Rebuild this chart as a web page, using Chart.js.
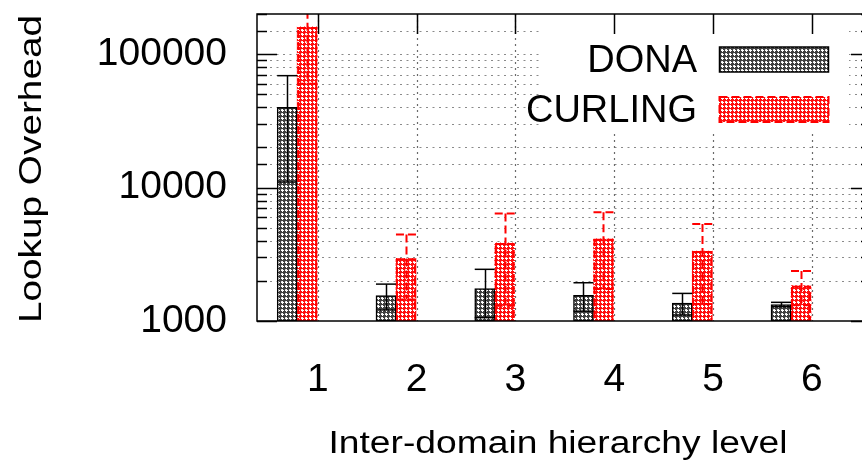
<!DOCTYPE html>
<html><head><meta charset="utf-8">
<script src="https://cdn.jsdelivr.net/npm/chart.js@4/dist/chart.umd.min.js"></script>
<style>html,body{margin:0;padding:0;background:#fff;overflow:hidden;width:862px;height:464px}canvas{display:block}</style>
</head><body>
<canvas id="c" width="880" height="464" style="width:880px;height:464px"></canvas>
<script>
const categories = ['1','2','3','4','5','6'];
const levels = [1,2,3,4,5,6];
const seriesNames = ['DONA','CURLING'];
const donaValues = [40000,1550,1750,1560,1360,1330];
const donaErrors = [29000,340,690,375,250,50];
const curlingValues = [160000,2950,3850,4130,3340,1840];
const curlingErrors = [100000,1500,2550,2390,2000,530];
const yMajorTicks = [1000,10000,100000];
const xTitle = 'Inter-domain hierarchy level';
const yTitle = 'Lookup Overhead';

function makePattern(bg, dot){
  const c=document.createElement('canvas'); c.width=4; c.height=4;
  const g=c.getContext('2d');
  g.fillStyle=bg; g.fillRect(0,0,4,4);
  g.fillStyle=dot;
  g.fillRect(1,1,2,2);
  g.fillStyle='#ffffff';
  g.fillRect(2,1,1,3); g.fillRect(1,2,3,1);
  return g.createPattern(c,'repeat');
}
const donaPat = makePattern('#404040', '#d0d0d0');
const curlPat = makePattern('#ff1010', '#ffd0d0');

function line(ctx,x1,y1,x2,y2){ctx.beginPath();ctx.moveTo(x1,y1);ctx.lineTo(x2,y2);ctx.stroke();}

const framePlugin = {
  id:'frame',
  beforeDatasetsDraw(chart){
    const ctx=chart.ctx, a=chart.chartArea, xs=chart.scales.x, ys=chart.scales.y;
    ctx.save();
    ctx.strokeStyle='#8a8a8a'; ctx.lineWidth=1; ctx.setLineDash([2,4.5]);
    ys.ticks.forEach(t=>{const py=Math.round(ys.getPixelForValue(t.value))+0.5; if(py<=a.top+1||py>=a.bottom-1) return; line(ctx,a.left,py,a.right,py);});
    ctx.strokeStyle='#6a6a6a'; ctx.lineWidth=1.2; ctx.setLineDash([2,4]);
    levels.forEach(v=>{const px=Math.round(xs.getPixelForValue(v))+0.5; line(ctx,px,a.top,px,a.bottom);});
    ctx.setLineDash([]);
    ctx.fillStyle='#fff'; ctx.fillRect(543, a.top+1, 306, 118);
    ctx.strokeStyle='#000'; ctx.lineWidth=1.5;
    ys.ticks.forEach(t=>{const py=Math.round(ys.getPixelForValue(t.value))+0.5; const len=yMajorTicks.includes(t.value)?20:10; line(ctx,a.left,py,a.left+len,py); line(ctx,a.right,py,a.right-len,py);});
    levels.forEach(v=>{const px=Math.round(xs.getPixelForValue(v))+0.5; line(ctx,px,a.top,px,a.top+20);});
    ctx.restore();
  },
  afterDatasetsDraw(chart){
    const ctx=chart.ctx, a=chart.chartArea, ys=chart.scales.y;
    ctx.save();
    ctx.beginPath(); ctx.rect(a.left,a.top,a.right-a.left,a.bottom-a.top); ctx.clip();
    const m1 = chart.getDatasetMeta(1);
    ctx.strokeStyle='#ff0000'; ctx.lineWidth=2; ctx.setLineDash([8,4]);
    m1.data.forEach(el=>{const p=el.getProps(['x','y','base','width'],true); ctx.strokeRect(p.x-p.width/2+1,p.y+1,p.width-2,p.base-p.y-1);});
    chart.data.datasets.forEach((ds,di)=>{
      const meta=chart.getDatasetMeta(di);
      if(di===0){ctx.strokeStyle='#000';ctx.lineWidth=1.5;ctx.setLineDash([]);}
      else {ctx.strokeStyle='#ff0000';ctx.lineWidth=2;ctx.setLineDash([8,4]);}
      meta.data.forEach((el,i)=>{
        const p=el.getProps(['x','width'],true);
        const v=ds.data[i].y, e=ds.errors[i];
        const hi=ys.getPixelForValue(v+e), lo=ys.getPixelForValue(Math.max(v-e,1));
        const cx=Math.round(p.x)+0.5, hw=p.width/2;
        line(ctx,cx,hi,cx,lo);
        line(ctx,p.x-hw,hi,p.x+hw,hi);
        line(ctx,p.x-hw,lo,p.x+hw,lo);
      });
    });
    ctx.restore();
  },
  afterDraw(chart){
    const ctx=chart.ctx, a=chart.chartArea;
    ctx.save();
    ctx.font='38px "Liberation Sans", Arial, sans-serif';
    ctx.fillStyle='#000'; ctx.textAlign='right'; ctx.textBaseline='alphabetic';
    const ds=chart.data.datasets;
    const rows=[{y:72,pat:donaPat},{y:122,pat:curlPat}];
    rows.forEach((r,i)=>{
      ctx.fillText(ds[i].label, 697, r.y);
      ctx.fillStyle=r.pat; ctx.fillRect(719, r.y-25, 110, 25);
      if(i===0){ctx.strokeStyle='#000';ctx.lineWidth=1.5;ctx.setLineDash([]);}
      else {ctx.strokeStyle='#ff0000';ctx.lineWidth=2;ctx.setLineDash([8,4]);}
      ctx.strokeRect(719.5, r.y-25, 109, 25);
      ctx.setLineDash([]);
      ctx.fillStyle='#000';
    });
    ctx.strokeStyle='#000'; ctx.lineWidth=1.5;
    ctx.strokeRect(a.left, a.top, a.right-a.left, a.bottom-a.top);
    ctx.font='31px "Liberation Sans", Arial, sans-serif';
    ctx.textAlign='center'; ctx.textBaseline='alphabetic';
    ctx.save(); ctx.translate(558, 453); ctx.scale(1.2,1); ctx.fillText(xTitle,0,0); ctx.restore();
    ctx.save(); ctx.translate(40.5, 169); ctx.rotate(-Math.PI/2); ctx.scale(1.25,1); ctx.fillText(yTitle,0,0); ctx.restore();
    ctx.restore();
  }
};

const chart = new Chart(document.getElementById('c').getContext('2d'), {
  type:'bar',
  data:{
    datasets:[
      {label:seriesNames[0], data:levels.map((x,i)=>({x, y:donaValues[i]})), errors:donaErrors,
       backgroundColor:donaPat, borderColor:'#000', borderWidth:1.5, borderSkipped:false, xAxisID:'xb', barThickness:20},
      {label:seriesNames[1], data:levels.map((x,i)=>({x, y:curlingValues[i]})), errors:curlingErrors,
       backgroundColor:curlPat, borderWidth:0, xAxisID:'xb', barThickness:20}
    ]
  },
  options:{
    responsive:false, animation:false,
    layout:{padding:{top:14,right:9,left:0,bottom:0}},
    plugins:{legend:{display:false}, tooltip:{enabled:false}},
    scales:{
      x:{type:'linear', position:'bottom', offset:false, min:0.383, max:6.6, grid:{display:false, offset:false}, border:{display:false},
         ticks:{stepSize:1, includeBounds:false, autoSkip:false, maxRotation:0, padding:28, color:'#000',
                font:{family:'"Liberation Sans", Arial, sans-serif', size:39},
                callback:(v)=>{const i=levels.indexOf(v); return i>=0?categories[i]:'';}},
         afterFit:(s)=>{s.height=143; s.paddingLeft=0; s.paddingRight=0;}},
      xb:{type:'linear', display:false, offset:false, grid:{offset:false}, min:0.383+0.21, max:6.6+0.21},
      y:{type:'logarithmic', min:1000, max:200000, grid:{display:false}, border:{display:false},
         ticks:{autoSkip:false, padding:22, color:'#000',
                font:{family:'"Liberation Sans", Arial, sans-serif', size:39},
                callback:(v)=>yMajorTicks.includes(v)?String(v):''},
         afterFit:(s)=>{s.width=257; s.paddingTop=0; s.paddingBottom=0;}}
    }
  },
  plugins:[framePlugin]
});
</script>
</body></html>
